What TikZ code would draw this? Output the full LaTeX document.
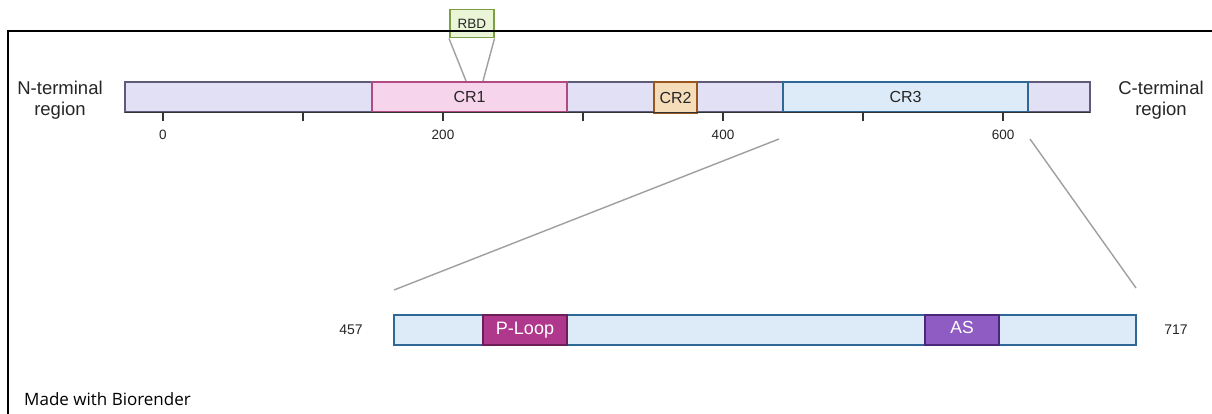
\documentclass[tikz,border=0pt]{standalone}
\usepackage{fontspec}
\setmainfont{Liberation Sans}
\newfontfamily\madefont{Open Sans}
\begin{document}
\begin{tikzpicture}[x=1pt,y=-1pt,
  seg/.style={draw, line width=1.8pt, inner sep=0pt, outer sep=0pt, font=\fontsize{16}{18}\selectfont, text=black!85},
  lav/.style={seg, draw=lavd, fill=lavf},
  tk/.style={font=\fontsize{13.5}{15}\selectfont, text=black!85},
  lbl/.style={font=\fontsize{18.5}{21}\selectfont, align=center, text=black!85},
  zoomln/.style={draw=gray!75, line width=1.4pt},
]
\definecolor{lavf}{HTML}{E2E0F4}
\definecolor{lavd}{HTML}{5E5C7A}
\definecolor{pinkf}{HTML}{F6D4EC}
\definecolor{pinkd}{HTML}{B24A82}
\definecolor{cr2f}{HTML}{F5DDBA}
\definecolor{cr2d}{HTML}{98561E}
\definecolor{blf}{HTML}{DDEBF8}
\definecolor{bld}{HTML}{2F6896}
\definecolor{grf}{HTML}{EAF5D8}
\definecolor{grd}{HTML}{7BA044}
\definecolor{plf}{HTML}{B0388C}
\definecolor{pld}{HTML}{6E1E56}
\definecolor{asf}{HTML}{8E5CC2}
\definecolor{asd}{HTML}{4C2678}
\useasboundingbox (0,0) rectangle (1212,414);
\fill[white] (0,0) rectangle (1212,414);
% main bar segments
\node[lav, minimum width=247pt, minimum height=30pt, anchor=north west] (nt) at (125,82) {};
\node[lav, minimum width=87pt, minimum height=30pt, anchor=north west] (l2) at (567,82) {};
\node[lav, minimum width=86pt, minimum height=30pt, anchor=north west] (l3) at (697,82) {};
\node[lav, minimum width=62pt, minimum height=30pt, anchor=north west] (ct) at (1028,82) {};
\node[seg, draw=pinkd, fill=pinkf, minimum width=195pt, minimum height=30pt, anchor=north west] (cr1) at (372,82) {CR1};
\node[seg, draw=cr2d, fill=cr2f, minimum width=43pt, minimum height=31pt, anchor=north west] (cr2) at (654,82) {CR2};
\node[seg, draw=bld, fill=blf, minimum width=245pt, minimum height=30pt, anchor=north west] (cr3) at (783,82) {CR3};
% axis
\draw[line width=1.8pt, black!80] (125,112.5) -- (1090,112.5);
\foreach \x/\t in {163/0,303/,443/200,583/,723/400,863/,1003/600}{
  \draw[line width=1.3pt, black!80] (\x,112) -- (\x,121);
  \node[tk] at (\x,135) {\t};
}
% labels
\node[lbl] (nlab) at (60,100) {N-terminal\\region};
\node[lbl] (clab) at (1161,100) {C-terminal\\region};
% RBD
\node[draw=grd, fill=grf, line width=1.5pt, minimum width=44pt, minimum height=28pt, inner sep=0pt, anchor=north west, font=\fontsize{13.5}{15}\selectfont, text=black!85] (rbd) at (449,9) {RBD};
\coordinate (r1) at (466,81);
\coordinate (r2) at (483,81);
\draw[zoomln] (rbd.south west) -- (r1);
\draw[zoomln] (rbd.south east) -- (r2);
% frame
\draw[line width=2.4pt] (8,416) -- (8,31) -- (1214,31);
% lower bar
\node[seg, draw=bld, fill=blf, minimum width=742pt, minimum height=30pt, anchor=north west] (low) at (394,315) {};
\node[seg, draw=pld, fill=plf, text=white, font=\fontsize{18}{20}\selectfont, minimum width=84pt, minimum height=30pt, anchor=north west] (pl) at (483,315) {P-Loop};
\node[seg, draw=asd, fill=asf, text=white, font=\fontsize{17.5}{20}\selectfont, minimum width=74pt, minimum height=30pt, anchor=north west] (as) at (925,315) {\raisebox{5pt}{AS}};
\node[tk, font=\fontsize{14}{15}\selectfont] (n457) at (351,330) {457};
\node[tk, font=\fontsize{14}{15}\selectfont] (n717) at (1176,330) {717};
% zoom lines
\coordinate (z1) at (779,139);
\coordinate (z2) at (1030,139);
\draw[zoomln] (z1) -- (low.north west |- 0,290);
\draw[zoomln] (z2) -- (low.north east |- 0,288);
% footer
\node[anchor=west, inner sep=0pt, font=\madefont\fontsize{17}{19}\selectfont] (made) at (24,399) {Made with Biorender};
\end{tikzpicture}
\end{document}
